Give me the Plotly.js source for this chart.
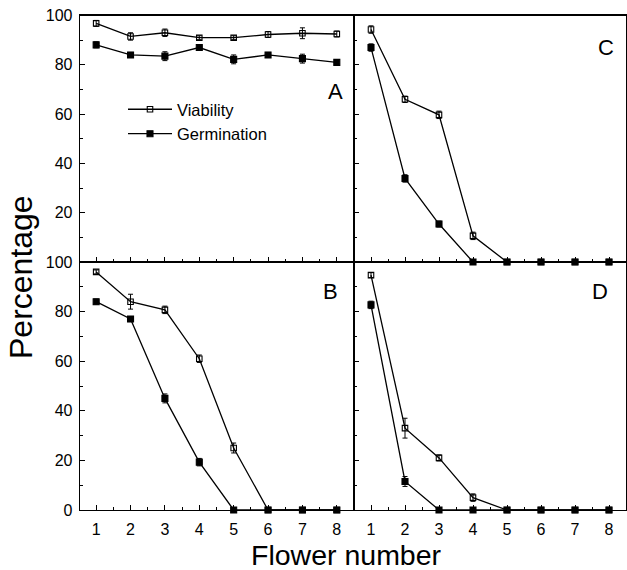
<!DOCTYPE html>
<html>
<head>
<meta charset="utf-8">
<script src="https://cdn.plot.ly/plotly-3.0.1.min.js"></script>
<style>html,body{margin:0;padding:0;background:#fff;}#chart{width:627px;height:570px;}</style>
</head>
<body>
<div id="chart"></div>
<script>
// Flower number (x)
var flowers = [1, 2, 3, 4, 5, 6, 7, 8];

// Panel A
var viabA = [96.8, 91.5, 93, 91, 91, 92.3, 92.8, 92.5];
var viabAErr = [1.2, 1.5, 1.5, 0.8, 0.8, 1.2, 2.2, 1.2];
var germA = [88.1, 84, 83.5, 87, 82.2, 84, 82.5, 81];
var germAErr = [1.2, 1, 1.8, 1, 1.8, 1, 1.8, 0.6];

// Panel C
var viabC = [94.3, 66, 59.7, 10.6, 0, 0, 0, 0];
var viabCErr = [1.5, 1.3, 1.5, 1.5, 0, 0, 0, 0];
var germC = [87, 33.9, 15.4, 0, 0, 0, 0, 0];
var germCErr = [1.5, 1.5, 1.2, 0, 0, 0, 0, 0];

// Panel B
var viabB = [96, 84, 80.7, 61, 25, 0, 0, 0];
var viabBErr = [0.8, 3, 1.5, 1.5, 2, 0, 0, 0];
var germB = [84, 77, 45, 19.3, 0, 0, 0, 0];
var germBErr = [1, 1, 1.8, 1.5, 0, 0, 0, 0];

// Panel D
var viabD = [94.7, 33, 21, 5, 0, 0, 0, 0];
var viabDErr = [1, 4, 1.2, 1.5, 0, 0, 0, 0];
var germD = [82.7, 11.5, 0, 0, 0, 0, 0, 0];
var germDErr = [1.5, 2, 0, 0, 0, 0, 0, 0];

var seriesNames = ['Viability', 'Germination'];
var panelLetters = ['A', 'C', 'B', 'D'];

function trace(y, err, ax, open, show) {
  return {
    x: flowers, y: y,
    xaxis: 'x' + ax, yaxis: 'y' + ax,
    type: 'scatter', mode: 'lines+markers',
    name: open ? seriesNames[0] : seriesNames[1],
    showlegend: show,
    cliponaxis: false,
    line: {color: '#000', width: 1.3},
    marker: {symbol: open ? 'square-open' : 'square', size: open ? 5.5 : 6, color: '#000',
             line: {color: '#000', width: 1.1}},
    error_y: {type: 'data', array: err, visible: true, color: '#000', thickness: 1, width: 2.5}
  };
}

var data = [
  trace(viabA, viabAErr, '', true, true),
  trace(germA, germAErr, '', false, true),
  trace(viabC, viabCErr, '2', true, false),
  trace(germC, germCErr, '2', false, false),
  trace(viabB, viabBErr, '3', true, false),
  trace(germB, germBErr, '3', false, false),
  trace(viabD, viabDErr, '4', true, false),
  trace(germD, germDErr, '4', false, false)
];

var W = 627, H = 570;
var xL = [80 / W, 354 / W], xR = [354 / W, 626 / W];
var yT = [1 - 262 / H, 1 - 15.5 / H], yB = [1 - 510 / H, 1 - 262 / H];
var tickFont = {family: 'Liberation Sans, Arial, sans-serif', size: 16, color: '#000'};

function xax(dom, anchor, labels, range) {
  return {
    domain: dom, anchor: anchor, range: range,
    tickmode: 'array', tickvals: flowers, ticktext: flowers.map(String),
    showticklabels: labels, ticks: 'inside', ticklen: 5, tickwidth: 1, tickcolor: '#000',
    minor: {ticks: 'inside', dtick: 0.5, tick0: 0.5, ticklen: 3, tickcolor: '#000'},
    showline: true, linecolor: '#000', linewidth: 1.3, mirror: true,
    showgrid: false, zeroline: false, tickfont: tickFont, ticklabelstandoff: 4
  };
}
function yax(dom, anchor, vals) {
  return {
    domain: dom, anchor: anchor, range: [0, 100],
    tickmode: 'array', tickvals: vals || [0, 20, 40, 60, 80, 100], ticktext: (vals || []).map(String),
    showticklabels: !!vals, ticks: 'inside', ticklen: 5, tickwidth: 1, tickcolor: '#000',
    minor: {ticks: 'inside', dtick: 10, tick0: 0, ticklen: 3, tickcolor: '#000'},
    showline: true, linecolor: '#000', linewidth: 1.3, mirror: true,
    showgrid: false, zeroline: false, tickfont: tickFont, ticklabelstandoff: 3
  };
}

var letterFont = {family: 'Liberation Sans, Arial, sans-serif', size: 22, color: '#000'};
var letterPos = [[335, 91], [606, 47], [330, 291], [600, 291]];
var annotations = panelLetters.map(function (t, i) {
  return {text: t, xref: 'paper', yref: 'paper', x: letterPos[i][0] / W, y: 1 - letterPos[i][1] / H,
          xanchor: 'center', yanchor: 'middle', showarrow: false, font: letterFont};
});
annotations.push({text: 'Percentage', xref: 'paper', yref: 'paper', x: 21 / W, y: 1 - 277 / H,
  xanchor: 'center', yanchor: 'middle', textangle: -90, showarrow: false,
  font: {family: 'Liberation Sans, Arial, sans-serif', size: 32, color: '#000'}});
annotations.push({text: 'Flower number', xref: 'paper', yref: 'paper', x: 346 / W, y: 1 - 555 / H,
  xanchor: 'center', yanchor: 'middle', showarrow: false,
  font: {family: 'Liberation Sans, Arial, sans-serif', size: 28.5, color: '#000'}});

var layout = {
  width: W, height: H,
  margin: {l: 0, r: 0, t: 0, b: 0},
  paper_bgcolor: '#fff', plot_bgcolor: 'rgba(0,0,0,0)',
  showlegend: true,
  legend: {x: 123 / W, y: 1 - 92 / H, xanchor: 'left', yanchor: 'top', bgcolor: 'rgba(0,0,0,0)',
           font: {family: 'Liberation Sans, Arial, sans-serif', size: 16.5, color: '#000'},
           tracegroupgap: 0, itemwidth: 44},
  xaxis: xax(xL, 'y', false, [0.53, 8.5]),
  yaxis: yax(yT, 'x', [20, 40, 60, 80, 100]),
  xaxis2: xax(xR, 'y2', false, [0.5, 8.5]),
  yaxis2: yax(yT, 'x2', null),
  xaxis3: xax(xL, 'y3', true, [0.53, 8.5]),
  yaxis3: yax(yB, 'x3', [0, 20, 40, 60, 80, 100]),
  xaxis4: xax(xR, 'y4', true, [0.5, 8.5]),
  yaxis4: yax(yB, 'x4', null),
  annotations: annotations
};

Plotly.newPlot('chart', data, layout, {staticPlot: true, displayModeBar: false});
</script>
</body>
</html>
